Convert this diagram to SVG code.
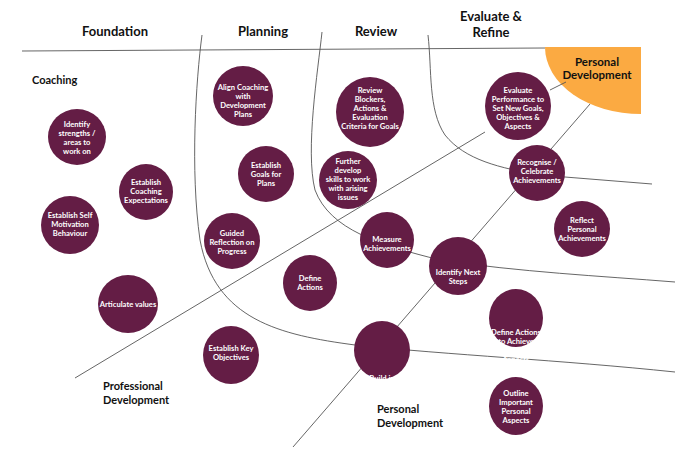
<svg xmlns="http://www.w3.org/2000/svg" width="675" height="464" viewBox="0 0 675 464">
<style>
.n ellipse{fill:#641d45}
.n text{fill:#fff;font-family:Lato,"Open Sans",sans-serif;font-size:7.6px;font-weight:bold;text-anchor:middle}
.h{font-family:Lato,"Open Sans",sans-serif;font-size:13px;font-weight:bold;fill:#111;text-anchor:middle}
.s{font-family:Lato,"Open Sans",sans-serif;font-size:11px;font-weight:bold;fill:#111}
.l{fill:none;stroke:#555;stroke-width:0.9}
</style>
<rect width="675" height="464" fill="#fff"/>
<path d="M545,47 L641,47 L641,114 A96,67 0 0 1 545,47 Z" fill="#fbaa42"/>
<g id="connectors">
<path class="l" d="M22,51 L545,48"/>
<path class="l" d="M202,35 C196,80 190,170 200,240 C215,320 280,335 355,345 C450,355 560,360 675,372"/>
<path class="l" d="M322,32 C318,70 305,150 315,190 C330,230 380,245 440,260 C520,272 600,276 675,282"/>
<path class="l" d="M428,35 C432,70 428,110 445,135 C465,160 500,168 540,175 L652,184"/>
<path class="l" d="M75,378 L485,132"/>
<path class="l" d="M550,90 L566,82"/>
<path class="l" d="M293,447 L590,104"/>
</g>
<text class="h" x="115" y="36">Foundation</text>
<text class="h" x="263" y="36">Planning</text>
<text class="h" x="376" y="36">Review</text>
<text class="h" x="491" y="21">Evaluate &amp;</text>
<text class="h" x="491" y="37">Refine</text>
<text class="h" x="597" y="66" style="font-size:11.5px">Personal</text>
<text class="h" x="597" y="79" style="font-size:11.5px">Development</text>
<text class="s" x="32" y="84">Coaching</text>
<text class="s" x="103" y="390">Professional</text>
<text class="s" x="103" y="404">Development</text>
<text class="s" x="377" y="413">Personal</text>
<text class="s" x="377" y="427">Development</text>
<g id="n1" class="n"><ellipse cx="77" cy="137" rx="29" ry="28"/><text x="77" y="127">Identify</text><text x="77" y="136">strengths /</text><text x="77" y="145">areas to</text><text x="77" y="154">work on</text></g>
<g id="n2" class="n"><ellipse cx="146" cy="192" rx="27" ry="28"/><text x="146" y="185">Establish</text><text x="146" y="194">Coaching</text><text x="146" y="203">Expectations</text></g>
<g id="n3" class="n"><ellipse cx="70" cy="225" rx="29" ry="29"/><text x="70" y="218">Establish Self</text><text x="70" y="227">Motivation</text><text x="70" y="236">Behaviour</text></g>
<g id="n4" class="n"><ellipse cx="243" cy="96" rx="30" ry="30"/><text x="243" y="90">Align Coaching</text><text x="243" y="99">with</text><text x="243" y="108">Development</text><text x="243" y="117">Plans</text></g>
<g id="n5" class="n"><ellipse cx="266" cy="174" rx="28" ry="28"/><text x="266" y="168">Establish</text><text x="266" y="177">Goals for</text><text x="266" y="186">Plans</text></g>
<g id="n6" class="n"><ellipse cx="232" cy="241" rx="28" ry="28"/><text x="232" y="236">Guided</text><text x="232" y="245">Reflection on</text><text x="232" y="254">Progress</text></g>
<g id="n7" class="n"><ellipse cx="310" cy="283" rx="27" ry="28"/><text x="310" y="281">Define</text><text x="310" y="290">Actions</text></g>
<g id="n8" class="n"><ellipse cx="128" cy="304" rx="30" ry="29"/><text x="128" y="307">Articulate values</text></g>
<g id="n9" class="n"><ellipse cx="231" cy="355" rx="28" ry="29"/><text x="231" y="351">Establish Key</text><text x="231" y="360">Objectives</text></g>
<g id="n10" class="n"><ellipse cx="370" cy="112" rx="34" ry="35"/><text x="370" y="93">Review</text><text x="370" y="102">Blockers,</text><text x="370" y="111">Actions &amp;</text><text x="370" y="120">Evaluation</text><text x="370" y="129">Criteria for Goals</text></g>
<g id="n11" class="n"><ellipse cx="348" cy="180" rx="29" ry="29"/><text x="348" y="164">Further</text><text x="348" y="173">develop</text><text x="348" y="182">skills to work</text><text x="348" y="191">with arising</text><text x="348" y="200">issues</text></g>
<g id="n12" class="n"><ellipse cx="518" cy="106" rx="33" ry="34"/><text x="518" y="93">Evaluate</text><text x="518" y="102">Performance to</text><text x="518" y="111">Set New Goals,</text><text x="518" y="120">Objectives &amp;</text><text x="518" y="129">Aspects</text></g>
<g id="n13" class="n"><ellipse cx="537" cy="173" rx="28" ry="28"/><text x="537" y="165">Recognise /</text><text x="537" y="174">Celebrate</text><text x="537" y="183">Achievements</text></g>
<g id="n14" class="n"><ellipse cx="582" cy="229" rx="28" ry="28"/><text x="582" y="223">Reflect</text><text x="582" y="232">Personal</text><text x="582" y="241">Achievements</text></g>
<g id="n15" class="n"><ellipse cx="387" cy="240" rx="27" ry="28"/><text x="387" y="242">Measure</text><text x="387" y="251">Achievements</text></g>
<g id="n16" class="n"><ellipse cx="458" cy="266" rx="29" ry="29"/><text x="458" y="275">Identify Next</text><text x="458" y="284">Steps</text></g>
<g id="n17" class="n"><ellipse cx="516" cy="318" rx="27" ry="29"/><text x="516" y="335">Define Actions</text><text x="516" y="344">to Achieve</text><text x="516" y="353">Personal</text><text x="516" y="362">Aspects</text></g>
<g id="n18" class="n"><ellipse cx="382" cy="350" rx="28" ry="29"/><text x="382" y="381">Build in</text><text x="382" y="390">self-account</text><text x="382" y="399">-ability</text></g>
<g id="n19" class="n"><ellipse cx="516" cy="406" rx="27" ry="29"/><text x="516" y="396">Outline</text><text x="516" y="405">Important</text><text x="516" y="414">Personal</text><text x="516" y="423">Aspects</text></g>
</svg>
